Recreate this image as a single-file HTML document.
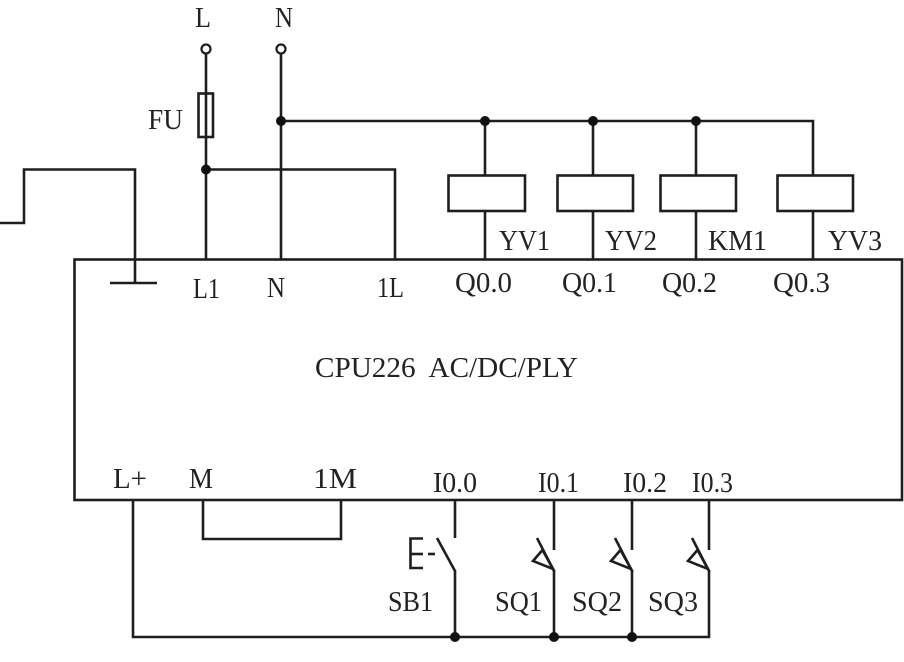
<!DOCTYPE html>
<html><head><meta charset="utf-8"><style>
html,body{margin:0;padding:0;background:#fff;}
svg{display:block;}
text{font-family:"Liberation Serif",serif;fill:#222;font-size:28px;}
</style></head><body>
<svg width="904" height="662" viewBox="0 0 904 662" xmlns="http://www.w3.org/2000/svg">
<g stroke="#1e1e1e" stroke-width="2.6" fill="none" stroke-linecap="butt">
  <!-- PLC box -->
  <rect x="74.5" y="259.5" width="827.5" height="240.5"/>
  <!-- L line with fuse -->
  <line x1="206" y1="54" x2="206" y2="259"/>
  <rect x="198.5" y="93.5" width="14.5" height="43.5"/>
  <!-- N line -->
  <line x1="281" y1="54" x2="281" y2="259"/>
  <!-- 1L wire -->
  <polyline points="206,169.5 395,169.5 395,259"/>
  <!-- ground -->
  <polyline points="0,223 24,223 24,169.5 135,169.5 135,283"/>
  <line x1="110" y1="283" x2="157" y2="283"/>
  <!-- N bus -->
  <polyline points="281,121 813,121 813,175"/>
  <!-- outputs -->
  <line x1="485" y1="121" x2="485" y2="175"/>
  <line x1="485" y1="211" x2="485" y2="259"/>
  <line x1="593" y1="121" x2="593" y2="175"/>
  <line x1="593" y1="211" x2="593" y2="259"/>
  <line x1="696" y1="121" x2="696" y2="175"/>
  <line x1="696" y1="211" x2="696" y2="259"/>
  <line x1="813" y1="211" x2="813" y2="259"/>
  <rect x="448.5" y="175.5" width="76.5" height="35.5"/>
  <rect x="557.5" y="175.5" width="75.5" height="35.5"/>
  <rect x="660.5" y="175.5" width="75.5" height="35.5"/>
  <rect x="777.5" y="175.5" width="75.5" height="35.5"/>
  <!-- bottom wiring -->
  <polyline points="133,500 133,637 709,637 709,571"/>
  <polyline points="203,500 203,539 341,539 341,500"/>
  <!-- SB1 -->
  <line x1="455" y1="500" x2="455" y2="538"/>
  <line x1="437" y1="538" x2="455" y2="571"/>
  <line x1="455" y1="570" x2="455" y2="637"/>
  <polyline points="423,538.5 410.5,538.5 410.5,568 423,568"/>
  <line x1="410" y1="554" x2="423" y2="554"/>
  <line x1="428" y1="554" x2="435" y2="554"/>
  <!-- SQ1 -->
  <line x1="554" y1="500" x2="554" y2="550"/>
  <line x1="537" y1="538" x2="554" y2="571"/>
  <polygon points="542.5,550 533,561 553,569"/>
  <line x1="554" y1="570" x2="554" y2="637"/>
  <!-- SQ2 -->
  <line x1="632" y1="500" x2="632" y2="550"/>
  <line x1="615" y1="538" x2="632" y2="571"/>
  <polygon points="620.5,550 611,561 631,569"/>
  <line x1="632" y1="570" x2="632" y2="637"/>
  <!-- SQ3 -->
  <line x1="709" y1="500" x2="709" y2="550"/>
  <line x1="692" y1="538" x2="709" y2="571"/>
  <polygon points="697.5,550 688,561 708,569"/>
</g>
<!-- terminals -->
<g stroke="#1e1e1e" stroke-width="2.2" fill="#fff">
  <circle cx="206" cy="49" r="4.5"/>
  <circle cx="281" cy="49" r="4.5"/>
</g>
<!-- junction dots -->
<g fill="#111">
  <circle cx="281" cy="121" r="5"/>
  <circle cx="485" cy="121" r="5"/>
  <circle cx="593" cy="121" r="5"/>
  <circle cx="696" cy="121" r="5"/>
  <circle cx="206" cy="169.5" r="5"/>
  <circle cx="455" cy="637" r="5"/>
  <circle cx="554" cy="637" r="5"/>
  <circle cx="632" cy="637" r="5"/>
</g>
<!-- labels -->
<text x="195" y="27" textLength="16" lengthAdjust="spacingAndGlyphs">L</text>
<text x="275" y="27" textLength="18" lengthAdjust="spacingAndGlyphs">N</text>
<text x="148" y="129" textLength="35" lengthAdjust="spacingAndGlyphs">FU</text>
<text x="193" y="298" textLength="27" lengthAdjust="spacingAndGlyphs">L1</text>
<text x="267" y="297" textLength="18" lengthAdjust="spacingAndGlyphs">N</text>
<text x="377" y="297" textLength="27" lengthAdjust="spacingAndGlyphs">1L</text>
<text x="499" y="250" textLength="51" lengthAdjust="spacingAndGlyphs">YV1</text>
<text x="605" y="250" textLength="52" lengthAdjust="spacingAndGlyphs">YV2</text>
<text x="708" y="250" textLength="59" lengthAdjust="spacingAndGlyphs">KM1</text>
<text x="828" y="250" textLength="54" lengthAdjust="spacingAndGlyphs">YV3</text>
<text x="455" y="292" textLength="57" lengthAdjust="spacingAndGlyphs">Q0.0</text>
<text x="562" y="292" textLength="55" lengthAdjust="spacingAndGlyphs">Q0.1</text>
<text x="662" y="292" textLength="55" lengthAdjust="spacingAndGlyphs">Q0.2</text>
<text x="773" y="292" textLength="57" lengthAdjust="spacingAndGlyphs">Q0.3</text>
<text x="315" y="377" textLength="263" lengthAdjust="spacingAndGlyphs" xml:space="preserve">CPU226  AC/DC/PLY</text>
<text x="113" y="488" textLength="34" lengthAdjust="spacingAndGlyphs">L+</text>
<text x="189" y="488" textLength="24" lengthAdjust="spacingAndGlyphs">M</text>
<text x="313" y="488" textLength="44" lengthAdjust="spacingAndGlyphs">1M</text>
<text x="433" y="492" textLength="44" lengthAdjust="spacingAndGlyphs">I0.0</text>
<text x="538" y="492" textLength="41" lengthAdjust="spacingAndGlyphs">I0.1</text>
<text x="623" y="492" textLength="44" lengthAdjust="spacingAndGlyphs">I0.2</text>
<text x="692" y="492" textLength="41" lengthAdjust="spacingAndGlyphs">I0.3</text>
<text x="388" y="611" textLength="45" lengthAdjust="spacingAndGlyphs">SB1</text>
<text x="495" y="611" textLength="47" lengthAdjust="spacingAndGlyphs">SQ1</text>
<text x="572" y="611" textLength="50" lengthAdjust="spacingAndGlyphs">SQ2</text>
<text x="648" y="611" textLength="50" lengthAdjust="spacingAndGlyphs">SQ3</text>
</svg>
</body></html>
